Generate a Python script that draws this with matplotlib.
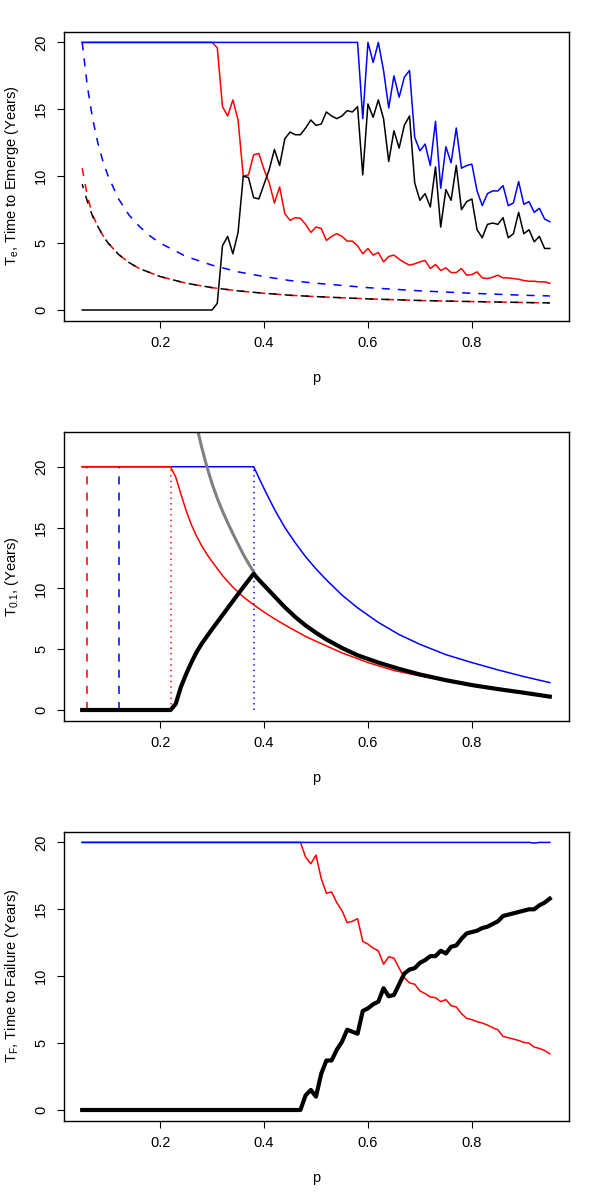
import numpy as np
import matplotlib
matplotlib.use("Agg")
import matplotlib.pyplot as plt

plt.rcParams['font.family'] = ['Liberation Sans', 'DejaVu Sans']
plt.rcParams['mathtext.fontset'] = 'custom'
plt.rcParams['mathtext.rm'] = 'Liberation Sans'
plt.rcParams['mathtext.it'] = 'Liberation Sans'
plt.rcParams['lines.scale_dashes'] = False

# ---------------- data ----------------
p_grid = np.round(np.arange(0.05, 0.951, 0.01), 2)   # 91 p values

# Panel 1: time to emerge
te_red = [20, 20, 20, 20, 20, 20, 20, 20, 20, 20,
          20, 20, 20, 20, 20, 20, 20, 20, 20, 20,
          20, 20, 20, 20, 20, 20,
          19.6, 15.2, 14.5, 15.7, 14.2, 10.0, 10.1, 11.6, 11.7, 10.5,
          9.5, 8.0, 9.2, 7.2, 6.7, 6.9, 6.85, 6.4, 5.8, 6.2,
          6.1, 5.2, 5.5, 5.7, 5.5, 5.15, 5.15, 4.8, 4.2, 4.6,
          4.1, 4.3, 3.6, 4.0, 4.1, 3.8, 3.55, 3.35, 3.45, 3.6,
          3.7, 3.1, 3.4, 2.95, 3.15, 2.8, 2.8, 3.1, 2.6, 2.65,
          2.85, 2.4, 2.35, 2.45, 2.6, 2.4, 2.4, 2.35, 2.3, 2.2,
          2.15, 2.15, 2.1, 2.1, 2.0]
te_blue = [20, 20, 20, 20, 20, 20, 20, 20, 20, 20,
           20, 20, 20, 20, 20, 20, 20, 20, 20, 20,
           20, 20, 20, 20, 20, 20, 20, 20, 20, 20,
           20, 20, 20, 20, 20, 20, 20, 20, 20, 20,
           20, 20, 20, 20, 20, 20, 20, 20, 20, 20,
           20, 20, 20, 20,
           14.3, 20.0, 18.5, 20.0, 17.9, 15.1, 17.5, 15.9, 17.4, 17.9,
           12.9, 11.9, 12.4, 10.8, 14.1, 9.1, 12.2, 11.0, 13.6, 10.6,
           10.8, 10.9, 8.9, 7.8, 8.7, 8.9, 8.9, 9.3, 7.8, 8.0,
           9.6, 7.9, 8.1, 7.3, 7.6, 6.8, 6.6]
te_black = [0, 0, 0, 0, 0, 0, 0, 0, 0, 0,
            0, 0, 0, 0, 0, 0, 0, 0, 0, 0,
            0, 0, 0, 0, 0, 0,
            0.5, 4.8, 5.5, 4.2, 5.8, 10.0, 9.9, 8.4, 8.3, 9.4,
            10.5, 12.0, 10.8, 12.8, 13.3, 13.1, 13.1, 13.6, 14.2, 13.8,
            13.9, 14.8, 14.5, 14.3, 14.5, 14.9, 14.8, 15.2, 10.1, 15.4,
            14.4, 15.7, 14.3, 11.1, 13.4, 12.1, 13.8, 14.5, 9.5, 8.2,
            8.7, 7.7, 10.7, 6.2, 9.0, 8.2, 10.8, 7.5, 8.1, 8.3,
            6.0, 5.4, 6.4, 6.5, 6.4, 6.9, 5.4, 5.7, 7.3, 5.7,
            6.0, 5.1, 5.5, 4.6, 4.6]

dash_p = [0.05, 0.06, 0.07, 0.08, 0.09, 0.10, 0.12, 0.14, 0.16, 0.18, 0.20,
          0.25, 0.30, 0.35, 0.40, 0.45, 0.50, 0.60, 0.70, 0.80, 0.90, 0.95]
te_blue_dash = [20.0, 16.7, 14.3, 12.5, 11.1, 10.0, 8.3, 7.1, 6.25, 5.55, 5.0,
                4.0, 3.35, 2.85, 2.5, 2.2, 2.0, 1.67, 1.43, 1.25, 1.1, 1.05]
te_red_dash = [10.6, 8.5, 7.1, 6.25, 5.55, 5.0, 4.15, 3.55, 3.1, 2.8, 2.5,
               2.0, 1.67, 1.43, 1.25, 1.1, 1.0, 0.83, 0.71, 0.63, 0.56, 0.53]
te_black_dash = [9.4, 8.1, 7.0, 6.25, 5.55, 5.0, 4.15, 3.55, 3.1, 2.8, 2.5,
                 2.0, 1.67, 1.43, 1.25, 1.1, 1.0, 0.83, 0.71, 0.63, 0.56, 0.53]

# Panel 2: T_0.1
t01_red_p = [0.05, 0.22, 0.23, 0.24, 0.25, 0.26, 0.27, 0.28, 0.29, 0.30, 0.32,
             0.34, 0.36, 0.38, 0.40, 0.42, 0.45, 0.48, 0.50, 0.55, 0.60, 0.65,
             0.70, 0.75, 0.80, 0.85, 0.90, 0.95]
t01_red = [20, 20, 19.15, 17.75, 16.4, 15.25, 14.3, 13.5, 12.8, 12.2, 11.05,
           10.1, 9.3, 8.65, 8.05, 7.5, 6.75, 6.05, 5.65, 4.7, 3.9, 3.25,
           2.8, 2.42, 2.08, 1.78, 1.45, 1.12]
t01_blue_p = [0.05, 0.38, 0.39, 0.40, 0.42, 0.44, 0.46, 0.48, 0.50, 0.52, 0.55,
              0.58, 0.62, 0.66, 0.70, 0.75, 0.80, 0.85, 0.90, 0.95]
t01_blue = [20, 20, 19.1, 18.2, 16.5, 15.0, 13.75, 12.6, 11.6, 10.7, 9.45,
            8.4, 7.2, 6.2, 5.4, 4.55, 3.9, 3.3, 2.75, 2.25]
t01_black_p = [0.05, 0.22, 0.23, 0.24, 0.25, 0.26, 0.27, 0.28, 0.29, 0.30, 0.32,
               0.34, 0.36, 0.38, 0.39, 0.40, 0.42, 0.44, 0.46, 0.48, 0.50, 0.52,
               0.55, 0.58, 0.62, 0.66, 0.70, 0.75, 0.80, 0.85, 0.90, 0.95]
t01_black = [0, 0, 0.5, 1.9, 2.95, 3.9, 4.75, 5.45, 6.05, 6.65, 7.8,
             8.95, 10.1, 11.2, 10.7, 10.25, 9.35, 8.45, 7.65, 6.95, 6.35, 5.8,
             5.1, 4.5, 3.9, 3.38, 2.92, 2.45, 2.05, 1.72, 1.42, 1.1]
t01_grey_p = [0.27, 0.28, 0.29, 0.30, 0.31, 0.32, 0.33, 0.34, 0.35, 0.36, 0.37, 0.38]
t01_grey = [23.4, 21.6, 20.0, 18.6, 17.4, 16.35, 15.4, 14.5, 13.65, 12.8, 12.05, 11.35]
vline_p = [0.06, 0.12, 0.22, 0.38]
vline_top = 20

# Panel 3: time to failure
tf_red = [20, 20, 20, 20, 20, 20, 20, 20, 20, 20,
          20, 20, 20, 20, 20, 20, 20, 20, 20, 20,
          20, 20, 20, 20, 20, 20, 20, 20, 20, 20,
          20, 20, 20, 20, 20, 20, 20, 20, 20, 20,
          20, 20, 20,
          18.9, 18.4, 19.05, 17.3, 16.2, 16.3, 15.5, 14.9, 14.0, 14.1,
          14.3, 12.6, 12.4, 12.1, 11.9, 10.9, 11.45, 11.35, 10.6, 9.9,
          9.5, 9.4, 8.9, 8.7, 8.45, 8.4, 8.1, 8.25, 7.8, 7.7,
          7.2, 6.85, 6.75, 6.6, 6.5, 6.35, 6.15, 6.0, 5.5, 5.4,
          5.3, 5.2, 5.05, 5.0, 4.7, 4.6, 4.45, 4.2]
tf_blue_p = [0.05, 0.91, 0.92, 0.93, 0.95]
tf_blue = [20, 20, 19.95, 20, 20]
tf_black = [0, 0, 0, 0, 0, 0, 0, 0, 0, 0,
            0, 0, 0, 0, 0, 0, 0, 0, 0, 0,
            0, 0, 0, 0, 0, 0, 0, 0, 0, 0,
            0, 0, 0, 0, 0, 0, 0, 0, 0, 0,
            0, 0, 0,
            1.1, 1.5, 1.0, 2.7, 3.7, 3.7, 4.5, 5.1, 6.0, 5.85,
            5.7, 7.4, 7.6, 7.9, 8.1, 9.1, 8.5, 8.6, 9.4, 10.2,
            10.5, 10.6, 11.0, 11.2, 11.5, 11.5, 11.9, 11.7, 12.2, 12.3,
            12.8, 13.2, 13.3, 13.4, 13.6, 13.7, 13.9, 14.1, 14.5, 14.6,
            14.7, 14.8, 14.9, 15.0, 15.0, 15.3, 15.5, 15.8]

x_ticks = [0.2, 0.4, 0.6, 0.8]
y_ticks = [0, 5, 10, 15, 20]
ylabels = [r"$\mathregular{T_e}$, Time to Emerge (Years)",
           r"$\mathregular{T_{0.1}}$, (Years)",
           r"$\mathregular{T_F}$, Time to Failure (Years)"]

# ---------------- figure ----------------
W, H = 600, 1200
fig = plt.figure(figsize=(6, 12), dpi=100)
LW = 1.1
DASH = (0, (5.8, 5.8))
axes = []
for k in range(3):
    ax = fig.add_axes([63.5 / W, 1 - (400 * k + 320.7) / H, 505 / W, 289 / H])
    axes.append(ax)
    ax.set_xlim(0.05 - 0.036, 0.95 + 0.036)
    ax.set_xticks(x_ticks)
    ax.set_xticklabels(["0.2", "0.4", "0.6", "0.8"])
    ax.set_yticks(y_ticks)
    ax.tick_params(direction='out', length=5, width=0.8, labelsize=10.5, pad=6)
    ax.tick_params(axis='y', labelrotation=90)
    for lab in ax.get_yticklabels():
        lab.set_va('center')
    for s in ax.spines.values():
        s.set_linewidth(1.0)
    ax.set_xlabel("p", fontsize=10.5)
    ax.xaxis.set_label_coords(0.5, -0.175)
    ax.set_ylabel(ylabels[k], fontsize=10.5)
    ax.yaxis.set_label_coords(-0.085, 0.5)

# Panel 1
ax = axes[0]
ax.set_ylim(-0.8, 20.8)
ax.plot(p_grid, te_red, color='#FF0000', lw=LW)
ax.plot(p_grid, te_blue, color='#0000FF', lw=LW)
ax.plot(p_grid, te_black, color='black', lw=LW)
ax.plot(dash_p, te_blue_dash, color='#0000FF', lw=LW, ls=DASH)
ax.plot(dash_p, te_red_dash, color='#FF0000', lw=LW, ls=DASH)
ax.plot(dash_p, te_black_dash, color='black', lw=LW, ls=(2.9, (5.8, 5.8)))

# Panel 2
ax = axes[1]
ax.set_ylim(-0.88, 22.88)
vcols = ['#FF0000', '#0000FF', '#FF0000', '#0000FF']
vstyles = [DASH, DASH, (0, (1.0, 3.0)), (0, (1.0, 3.0))]
for xv, c, st in zip(vline_p, vcols, vstyles):
    ax.plot([xv, xv], [0, vline_top], color=c, lw=LW, ls=st)
ax.plot(t01_blue_p, t01_blue, color='#0000FF', lw=LW)
ax.plot(t01_red_p, t01_red, color='#FF0000', lw=LW)
ax.plot(t01_grey_p, t01_grey, color='#808080', lw=2.2)
ax.plot(t01_black_p, t01_black, color='black', lw=3.0, solid_joinstyle='round')

# Panel 3
ax = axes[2]
ax.set_ylim(-0.8, 20.8)
ax.plot(p_grid, tf_red, color='#FF0000', lw=LW)
ax.plot(tf_blue_p, tf_blue, color='#0000FF', lw=LW)
ax.plot(p_grid, tf_black, color='black', lw=3.0, solid_joinstyle='round')

fig.savefig("out.png", dpi=100)
